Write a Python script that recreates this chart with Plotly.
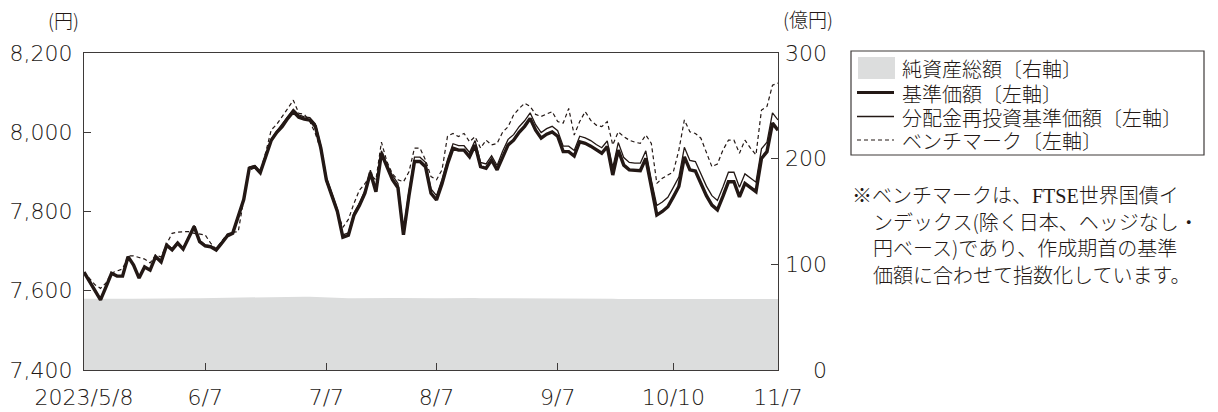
import plotly.graph_objects as go

# ---------------- data ----------------
x_tick_idx = [0, 22, 44, 64, 86, 107, 126]
x_tick_text = ["2023/5/8", "6/7", "7/7", "8/7", "9/7", "10/10", "11/7"]
left_ticks = [7400, 7600, 7800, 8000, 8200]
right_ticks = [0, 100, 200, 300]

# 基準価額 (円)
nav = [7647, 7624, 7600, 7577, 7610, 7644, 7637, 7637, 7686, 7665,
       7632, 7660, 7652, 7686, 7673, 7715, 7703, 7720, 7705, 7735,
       7762, 7724, 7713, 7711, 7703, 7720, 7738, 7745, 7790, 7830,
       7909, 7913, 7898, 7940, 7980, 8000, 8015, 8035, 8052, 8038,
       8033, 8031, 8015, 7960, 7880, 7840, 7800, 7735, 7740, 7790,
       7815, 7846, 7898, 7850, 7947, 7913, 7880, 7860, 7741, 7840,
       7926, 7926, 7913, 7846, 7829, 7870, 7920, 7960, 7955, 7955,
       7938, 7968, 7913, 7909, 7930, 7905, 7938, 7968, 7980, 8000,
       8015, 8035, 8005, 7985, 7995, 8001, 7990, 7951, 7951, 7940,
       7976, 7972, 7965, 7955, 7947, 7964, 7892, 7955, 7917, 7905,
       7903, 7903, 7934, 7860, 7791, 7800, 7812, 7837, 7863, 7938,
       7905, 7902, 7871, 7840, 7816, 7804, 7838, 7875, 7875, 7837,
       7871, 7860, 7850, 7934, 7951, 8023, 8005]

# 分配金再投資基準価額 (円)
reinv = [7647, 7624, 7600, 7577, 7610, 7644, 7637, 7637, 7686, 7665,
         7632, 7660, 7652, 7686, 7673, 7718, 7706, 7723, 7708, 7738,
         7765, 7727, 7716, 7714, 7706, 7723, 7741, 7748, 7793, 7833,
         7912, 7916, 7901, 7943, 7983, 8003, 8021, 8041, 8058, 8044,
         8039, 8037, 8021, 7966, 7886, 7846, 7806, 7741, 7746, 7796,
         7821, 7852, 7904, 7856, 7953, 7919, 7891, 7871, 7752, 7851,
         7937, 7937, 7924, 7857, 7840, 7881, 7931, 7971, 7966, 7966,
         7949, 7979, 7924, 7920, 7941, 7916, 7952, 7982, 7994, 8014,
         8029, 8049, 8019, 7999, 8009, 8015, 8004, 7965, 7965, 7954,
         7990, 7986, 7979, 7969, 7961, 7978, 7911, 7974, 7936, 7924,
         7922, 7922, 7953, 7879, 7815, 7824, 7836, 7861, 7887, 7962,
         7929, 7926, 7895, 7864, 7840, 7828, 7862, 7899, 7899, 7861,
         7895, 7884, 7874, 7958, 7975, 8049, 8031]

# ベンチマーク (円換算)
bench = [7647, 7630, 7615, 7606, 7620, 7645, 7650, 7655, 7688, 7688,
         7684, 7680, 7670, 7690, 7685, 7718, 7745, 7748, 7749, 7749,
         7745, 7743, 7741, 7720, 7705, 7725, 7743, 7748, 7749, 7830,
         7905, 7910, 7900, 7950, 8006, 8020, 8039, 8060, 8081, 8048,
         8045, 8027, 7997, 7955, 7875, 7835, 7800, 7760, 7780, 7820,
         7854, 7870, 7892, 7880, 7975, 7926, 7895, 7880, 7875, 7900,
         7960, 7960, 7930, 7888, 7880, 7905, 7990, 7997, 7989, 7997,
         7976, 7989, 7960, 7980, 7968, 7972, 8000, 8014, 8044, 8060,
         8073, 8065, 8045, 8040, 8046, 8052, 8027, 8023, 8060, 7993,
         8027, 8052, 8030, 8018, 8014, 8027, 7968, 8001, 7989, 7980,
         7975, 7972, 7993, 7972, 7871, 7884, 7892, 7900, 7955, 8031,
         8001, 7997, 7985, 7950, 7913, 7920, 7955, 7980, 7980, 7947,
         7980, 7960, 7943, 8056, 8065, 8119, 8124]

# 純資産総額 (億円)
assets = [67.5, 67.4, 67.4, 67.3, 67.3, 67.2, 67.2, 67.3, 67.4, 67.5,
          67.6, 67.6, 67.5, 67.5, 67.6, 67.7, 67.8, 67.8, 67.9, 68.0,
          68.0, 68.0, 68.1, 68.1, 68.0, 68.0, 68.1, 68.2, 68.3, 68.4,
          68.6, 68.8, 68.9, 69.0, 69.2, 69.3, 69.4, 69.5, 69.5, 69.5,
          69.4, 69.3, 69.1, 68.8, 68.4, 68.0, 67.8, 67.7, 67.8, 68.0,
          68.1, 68.1, 68.0, 68.0, 68.1, 68.2, 68.2, 68.1, 68.0, 68.0,
          68.0, 68.1, 68.1, 68.0, 68.0, 68.0, 68.1, 68.2, 68.2, 68.2,
          68.1, 68.1, 68.0, 68.0, 68.0, 68.0, 68.0, 68.0, 68.1, 68.1,
          68.1, 68.0, 68.0, 67.9, 67.9, 67.9, 67.8, 67.8, 67.8, 67.7,
          67.7, 67.6, 67.6, 67.5, 67.5, 67.4, 67.4, 67.3, 67.3, 67.3,
          67.3, 67.4, 67.5, 67.6, 67.7, 67.6, 67.5, 67.4, 67.3, 67.2,
          67.2, 67.1, 67.1, 67.0, 67.0, 67.0, 67.0, 67.0, 67.1, 67.1,
          67.1, 67.2, 67.2, 67.2, 67.3, 67.3, 67.3]

legend_labels = ["純資産総額〔右軸〕", "基準価額〔左軸〕", "分配金再投資基準価額〔左軸〕", "ベンチマーク〔左軸〕"]
note_lines = ["※ベンチマークは、<span style='font-family:Liberation Serif'>FTSE</span>世界国債イ",
              "ンデックス(除く日本、ヘッジなし・",
              "円ベース)であり、作成期首の基準",
              "価額に合わせて指数化しています。"]

# ---------------- style ----------------
INK = "#231815"
AX = "#3e3a39"
GRAY = "#dcdddd"
NUMF = "DejaVu Sans"
JPF = "Noto Sans CJK JP"
WT = 300

W, H = 1218, 412
L, R, T, B = 84, 778, 53, 370


def px(xp):
    return (xp - L) / (R - L)


def py(yp):
    return (B - yp) / (B - T)


x = list(range(len(nav)))

fig = go.Figure()
fig.add_trace(go.Scatter(x=x, y=assets, yaxis="y", mode="lines",
                         line=dict(width=0, color=GRAY), fill="tozeroy",
                         fillcolor=GRAY, hoverinfo="skip", name=legend_labels[0]))
fig.add_trace(go.Scatter(x=x, y=bench, yaxis="y2", mode="lines",
                         line=dict(color=INK, width=1.2, dash="4px,3px"), name=legend_labels[3]))
fig.add_trace(go.Scatter(x=x, y=reinv, yaxis="y2", mode="lines",
                         line=dict(color=INK, width=1.3), name=legend_labels[2]))
fig.add_trace(go.Scatter(x=x, y=nav, yaxis="y2", mode="lines",
                         line=dict(color=INK, width=3.4), name=legend_labels[1]))

fig.update_layout(
    width=W, height=H,
    margin=dict(l=L, r=W - R, t=T, b=H - B, pad=0, autoexpand=False),
    paper_bgcolor="white", plot_bgcolor="white",
    showlegend=False,
    font=dict(family=JPF, color=INK, weight=WT),
    xaxis=dict(range=[0, len(nav) - 1], tickmode="array", tickvals=x_tick_idx,
               ticktext=x_tick_text, ticks="inside", ticklen=7, tickwidth=1.3,
               tickcolor=AX, showline=True, linecolor=AX, linewidth=1.3,
               mirror=True, showgrid=False, zeroline=False, automargin=False,
               tickfont=dict(family=NUMF, size=22, color=INK, weight=WT),
               ticklabelstandoff=7),
    yaxis=dict(side="right", range=[0, 300], tickmode="array", tickvals=right_ticks,
               ticks="inside", ticklen=7, tickwidth=1.3, tickcolor=AX,
               showticklabels=False, showline=True, linecolor=AX, linewidth=1.3,
               showgrid=False, zeroline=False, automargin=False),
    yaxis2=dict(overlaying="y", side="left", range=[7400, 8200], tickmode="array",
                tickvals=left_ticks, tickformat=",", ticks="inside", ticklen=7,
                tickwidth=1.3, tickcolor=AX, showline=True, linecolor=AX,
                linewidth=1.3, showgrid=False, zeroline=False, automargin=False,
                tickfont=dict(family=NUMF, size=22, color=INK, weight=WT),
                ticklabelstandoff=6),
)

# right axis labels (right-aligned)
for v in right_ticks:
    fig.add_annotation(x=px(829), xref="paper", y=v, yref="y", text=str(v),
                       showarrow=False, xanchor="right", yanchor="middle",
                       font=dict(family=NUMF, size=22, color=INK, weight=WT))

# unit labels
fig.add_annotation(x=px(63), y=py(20), xref="paper", yref="paper", text="(円)",
                   showarrow=False, xanchor="center", yanchor="middle",
                   font=dict(family=JPF, size=19, color=INK, weight=WT))
fig.add_annotation(x=px(808), y=py(18), xref="paper", yref="paper", text="(億円)",
                   showarrow=False, xanchor="center", yanchor="middle",
                   font=dict(family=JPF, size=19, color=INK, weight=WT))

# custom legend
fig.add_shape(type="rect", xref="paper", yref="paper", x0=px(851), x1=px(1204),
              y0=py(51), y1=py(155), line=dict(color=AX, width=1.2), fillcolor="white")
fig.add_shape(type="rect", xref="paper", yref="paper", x0=px(858), x1=px(895),
              y0=py(57), y1=py(79), line=dict(width=0), fillcolor=GRAY)
row_y = [68, 92.5, 116.5, 140]
fig.add_shape(type="line", xref="paper", yref="paper", x0=px(857), x1=px(894),
              y0=py(row_y[1]), y1=py(row_y[1]), line=dict(color=INK, width=3.2))
fig.add_shape(type="line", xref="paper", yref="paper", x0=px(857), x1=px(894),
              y0=py(row_y[2]), y1=py(row_y[2]), line=dict(color=INK, width=1.3))
fig.add_shape(type="line", xref="paper", yref="paper", x0=px(857), x1=px(894),
              y0=py(row_y[3]), y1=py(row_y[3]), line=dict(color=INK, width=1.2, dash="4px,3px"))
for lab, yy in zip(legend_labels, row_y):
    fig.add_annotation(x=px(901), y=py(yy), xref="paper", yref="paper", text=lab,
                       showarrow=False, xanchor="left", yanchor="middle",
                       height=22, borderpad=0,
                       font=dict(family=JPF, size=20, color=INK, weight=WT))

# note
note_x = [851, 872, 872, 872]
note_y = [194, 221, 247.5, 274]
for t, nx, ny in zip(note_lines, note_x, note_y):
    fig.add_annotation(x=px(nx), y=py(ny), xref="paper", yref="paper", text=t,
                       showarrow=False, xanchor="left", yanchor="middle",
                       height=25, borderpad=0,
                       font=dict(family=JPF, size=20, color=INK, weight=WT))

fig.write_html("out.html", config={"displayModeBar": False},
               post_script="document.body.style.margin='0';")
